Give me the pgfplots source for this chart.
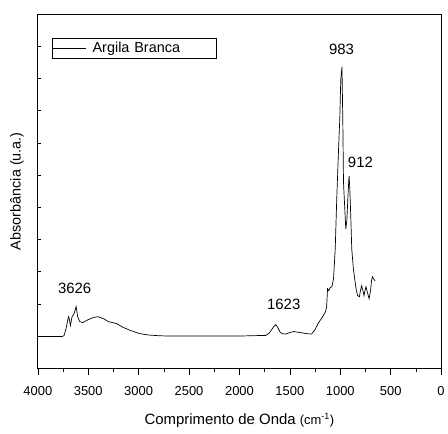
\documentclass[border=0pt]{standalone}
\usepackage{fontspec}
\setmainfont{Liberation Sans}
\usepackage{graphicx}
\usepackage{pgfplots}
\pgfplotsset{compat=1.18}
\begin{document}
\begin{tikzpicture}
\begin{axis}[
  at={(0,0)}, anchor=south west,
  scale only axis, width=405pt, height=356pt,
  x dir=reverse, xmin=0, xmax=4000, ymin=0, ymax=356,
  xtick={0,500,...,4000}, minor x tick num=1,
  ytick={0,32.36,64.73,97.09,129.45,161.82,194.18,226.55,258.91,291.27,323.64,356},
  yticklabels={,,},
  xtick pos=bottom, ytick pos=left,
  x tick style={black, line width=0.6pt},
  y tick style={black, line width=0.6pt, /pgfplots/major tick length=3.5pt},
  xtick align=outside, ytick align=inside,
  major tick length=6.5pt, minor tick length=3.5pt,
  /pgf/number format/assume math mode=true,
  /pgf/number format/set thousands separator={},
  xticklabel style={font=\fontsize{13}{15}\selectfont, yshift=-8pt},
  axis line style={line width=0.8pt},
  xlabel={\fontsize{15}{17}\selectfont Comprimento de Onda {\fontsize{13}{15}\selectfont(cm\textsuperscript{-1})}},
  xlabel style={yshift=-11pt},
  legend style={at={(0.0346,0.933)}, anchor=north west, draw=black, line width=0.6pt,
    inner xsep=1pt, inner ysep=2pt, font=\fontsize{14.5}{17}\selectfont,
    text width=125pt},
  legend cell align=left,
  legend image code/.code={\draw[line width=0.7pt] (0pt,0pt) -- (33pt,0pt);},
  clip=false,
]
\addplot[black, line width=0.7pt] coordinates {
(4000,32) (3760,32) (3740,33) (3720,40) (3700,50) (3694,52) (3685,48) (3677,43)
(3660,52) (3640,55) (3620,62) (3605,52) (3585,47) (3555,46) (3500,49) (3450,51)
(3407,52) (3350,50) (3300,47) (3220,45) (3150,41) (3080,38) (2993,35) (2900,33.5)
(2800,32.8) (2700,32.5) (2400,32.5) (2000,32.5) (1800,33) (1740,33) (1700,36)
(1660,42) (1640,44) (1620,41) (1600,37) (1580,35) (1540,34.5) (1500,36) (1462,37)
(1400,36) (1340,35) (1284,34.5) (1250,39) (1215,46) (1180,51) (1146,57) (1135,62)
(1126,80) (1115,78) (1100,81) (1083,82) (1067,90) (1050,120) (1035,170) (1017,220)
(1005,250) (995,290) (983,303) (975,250) (968,187) (955,160) (945,140) (935,148)
(925,170) (915,190) (912,193) (905,180) (895,150) (886,120) (870,100) (853,87)
(840,78) (827,73) (810,72) (800,78) (788,83) (775,78) (764,73) (755,78) (745,82)
(730,76) (714,70) (700,78) (690,88) (681,92) (670,90) (655,88)
};
\addlegendentry{\hspace*{4pt}Argila Branca}
\node[font=\fontsize{15}{17}\selectfont] at (axis cs:3635,80) {3626};
\node[font=\fontsize{15}{17}\selectfont] at (axis cs:1561,64) {1623};
\node[font=\fontsize{15}{17}\selectfont] at (axis cs:988,320) {983};
\node[font=\fontsize{15}{17}\selectfont] at (axis cs:800,207) {912};
\node[font=\fontsize{14.5}{17}\selectfont, inner sep=0pt] at (rel axis cs:-0.052,0.5) {\rotatebox{90}{Absorbância (u.a.)}};
\end{axis}
\path (-38pt,-65pt) rectangle (410pt,370pt);
\end{tikzpicture}
\end{document}
